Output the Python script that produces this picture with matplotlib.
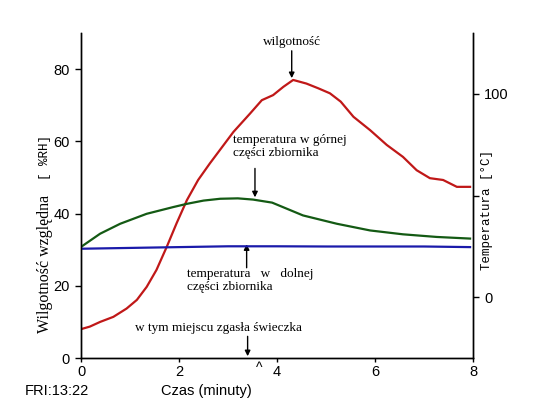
import matplotlib
matplotlib.use("Agg")
import matplotlib.pyplot as plt

# Data
hum_t = [0.0, 0.18, 0.39, 0.66, 0.93, 1.14, 1.34, 1.54, 1.75, 1.95, 2.16, 2.39, 2.63,
         3.11, 3.45, 3.69, 3.92, 4.13, 4.33, 4.6, 4.84, 5.08, 5.3, 5.56, 5.9, 6.24,
         6.57, 6.85, 7.12, 7.39, 7.67, 7.94]
hum_v = [8.0, 8.7, 10.0, 11.4, 13.7, 16.1, 19.7, 24.4, 30.8, 37.3, 43.7, 49.3, 53.9,
         62.6, 67.7, 71.4, 72.8, 75.1, 77.0, 76.0, 74.7, 73.3, 71.0, 66.8, 63.1, 59.0,
         55.7, 52.0, 49.8, 49.3, 47.4, 47.4]

top_t = [0.0, 0.39, 0.8, 1.34, 1.88, 2.16, 2.5, 2.84, 3.2, 3.51, 3.9, 4.2, 4.53, 5.22,
         5.9, 6.57, 7.26, 7.94]
top_v = [24.7, 31.2, 36.1, 41.0, 44.3, 45.9, 47.5, 48.4, 48.6, 48.0, 46.5, 43.5, 40.2,
         36.1, 32.8, 30.9, 29.6, 28.8]

bot_t = [0, 1, 2, 3, 4, 5, 6, 7, 7.94]
bot_v = [23.8, 24.2, 24.6, 25.0, 25.0, 24.9, 24.9, 24.9, 24.6]

x_ticks = [0, 2, 4, 6, 8]
left_ticks = [0, 20, 40, 60, 80]
right_ticks = [0, 50, 100]
right_labels = ["0", "", "100"]

sans = "Liberation Sans"
serif = "Liberation Serif"
mono = "Liberation Mono"

fig = plt.figure(figsize=(5.38, 4.08), dpi=100)
ax = fig.add_axes([0.1506, 0.1225, 0.7286, 0.7966])
ax2 = ax.twinx()

ax.plot(hum_t, hum_v, color="#c01818", lw=1.6)
ax2.plot(top_t, top_v, color="#145a14", lw=1.6)
ax2.plot(bot_t, bot_v, color="#1a1aaa", lw=1.6)

ax.set_xlim(0, 8)
ax.set_ylim(0, 90)
ax2.set_ylim(-30, 130)

for a in (ax, ax2):
    a.spines["top"].set_visible(False)
    for s in a.spines.values():
        s.set_linewidth(1.0)

ax.set_xticks(x_ticks)
ax.set_xticklabels([str(v) for v in x_ticks], fontfamily=sans, fontsize=10.5)
ax.set_yticks(left_ticks)
ax.set_yticklabels([str(v) for v in left_ticks], fontfamily=sans, fontsize=10.5)
ax2.set_yticks(right_ticks)
ax2.set_yticklabels(right_labels, fontfamily=sans, fontsize=10.5)
ax.tick_params(axis="y", direction="out", length=4, width=1, pad=4)
ax.tick_params(axis="x", direction="out", length=3, width=1, pad=2)
ax2.tick_params(direction="out", length=4, width=1, pad=4)

# Axis labels
fig.text(45 / 538, 1 - 264 / 408, "Wilgotność względna", rotation=90, ha="center", va="center",
         fontfamily=serif, fontsize=11.5)
fig.text(45 / 538, 1 - 157 / 408, "[ %RH]", rotation=90, ha="center", va="center",
         fontfamily=mono, fontsize=9)
fig.text(487 / 538, 1 - 210 / 408, "Temperatura [°C]", rotation=90, ha="center", va="center",
         fontfamily=mono, fontsize=9)
fig.text(206 / 538, 1 - 391 / 408, "Czas (minuty)", ha="center", va="center",
         fontfamily=sans, fontsize=10.5)
fig.text(25 / 538, 1 - 391 / 408, "FRI:13:22", ha="left", va="center",
         fontfamily=sans, fontsize=10.5)
ax.text(3.63, -0.8, "^", ha="center", va="top", fontfamily=sans, fontsize=10)

# Annotations
arrow = dict(arrowstyle="-|>", color="black", lw=1, mutation_scale=8, shrinkA=0, shrinkB=0)
ax.annotate("wilgotność", xy=(4.3, 77.5), xytext=(4.3, 87.5), ha="center", va="center",
            fontfamily=serif, fontsize=9.5, arrowprops=arrow)
ax.annotate("", xy=(3.55, 44.5), xytext=(3.55, 52.5), arrowprops=arrow)
ax.text(3.1, 58.5, "temperatura w górnej\nczęści zbiornika", ha="left", va="center",
        fontfamily=serif, fontsize=9.5, linespacing=1.15)
ax.annotate("", xy=(3.38, 31.5), xytext=(3.38, 25), arrowprops=arrow)
ax.text(2.17, 21.5, "temperatura   w   dolnej\nczęści zbiornika", ha="left", va="center",
        fontfamily=serif, fontsize=9.5, linespacing=1.15)
ax.annotate("", xy=(3.4, 0.5), xytext=(3.4, 6), arrowprops=arrow)
ax.text(1.1, 8.2, "w tym miejscu zgasła świeczka", ha="left", va="center",
        fontfamily=serif, fontsize=9.5)

fig.savefig("out.png", dpi=100)
